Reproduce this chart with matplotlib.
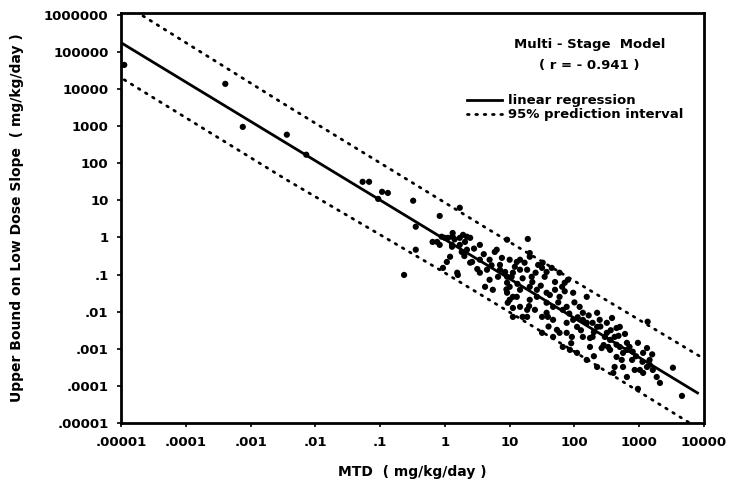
import numpy as np
import matplotlib
matplotlib.use("Agg")
import matplotlib.pyplot as plt

plt.rcParams['font.family'] = ['DejaVu Sans']
plt.rcParams['font.weight'] = 'bold'

# ---- data (log10 values) ----
log_mtd = [
    -4.95, -3.39, -3.12, -2.44, -2.14, -1.27, -1.17, -0.97, -0.88, -1.03,
    -0.49, -0.08, 0.23, -0.45, -0.45, -0.63, 1.28, 0.96,
    -0.19, -0.12, -0.08, -0.05, 0.00, 0.05, 0.12, 0.12, 0.11, 0.11,
    0.23, 0.23, 0.28, 0.31, 0.34, 0.39, 0.34, 0.26, 0.08, 0.03,
    -0.03, 0.20, 0.39, 0.42, 0.54, 0.54, 0.54, 0.69, 0.69, 0.77,
    0.80, 0.85, 0.85, 0.93, 0.96, 0.96, 1.00, 1.03, 1.08, 1.11,
    1.16, 1.16, 1.23, 1.31, 1.31, 1.34, 1.44, 1.50, 1.54, 1.51,
    1.57, 1.65, 1.77, 1.81, 1.85, 1.90, 1.70, 0.74, 0.62, 0.82,
    0.65, 0.96, 1.00, 1.05, 1.00, 0.97, 1.05, 1.05, 1.16, 1.16,
    1.20, 1.27, 1.31, 1.31, 1.42, 1.42, 1.39, 1.50, 1.50, 1.57,
    1.57, 1.57, 1.67, 1.67, 1.67, 1.73, 1.77, 1.77, 1.82, 1.82,
    1.88, 1.88, 1.88, 1.93, 1.96, 1.98, 1.98, 2.04, 2.04, 2.08,
    2.13, 2.13, 2.13, 2.19, 2.19, 2.19, 2.24, 2.24, 2.28, 2.28,
    2.35, 2.35, 2.35, 2.39, 2.42, 2.47, 2.50, 2.50, 2.52, 2.55,
    2.55, 2.58, 2.62, 2.62, 2.65, 2.65, 2.65, 2.70, 2.70, 2.73,
    2.75, 2.75, 2.81, 2.81, 2.81, 2.89, 2.90, 2.93, 2.98, 2.98,
    3.01, 3.06, 3.06, 3.12, 3.12, 3.13, 3.16, 3.16, 3.21, 3.27,
    3.32, 3.52, 3.66, 0.19, 1.27, 1.27, 1.11, 1.59,
    0.15, 0.45, 0.60, 0.72, 0.88, 1.05, 1.12, 1.20, 1.35, 1.40,
    1.48, 1.62, 1.70, 1.75, 1.85, 1.92, 2.00, 2.05, 2.10, 2.22,
    2.30, 2.40, 2.45, 2.56, 2.68, 2.78, 2.85, 2.95, 3.05, 3.20,
    0.30, 0.50, 0.95, 1.30, 1.60, 1.95, 2.30, 2.60,
]
log_slope = [
    4.65, 4.14, 2.98, 2.77, 2.23, 1.50, 1.50, 1.23, 1.20, 1.04,
    0.99, 0.58, 0.80, 0.29, -0.33, -1.01, -0.04, -0.06,
    -0.12, -0.12, -0.20, 0.02, -0.01, -0.01, 0.02, 0.12, -0.20, -0.25,
    -0.01, -0.20, 0.07, -0.12, 0.02, -0.01, -0.33, -0.39, -0.52, -0.66,
    -0.82, -1.01, -0.68, -0.66, -0.20, -0.60, -0.95, -0.60, -1.14, -0.39,
    -0.33, -0.74, -0.87, -0.93, -1.06, -1.22, -0.60, -1.06, -0.79, -0.66,
    -0.87, -0.60, -0.68, -0.52, -0.42, -1.06, -0.74, -0.82, -1.06, -0.68,
    -0.93, -0.82, -0.95, -1.33, -1.22, -1.14, -1.41, -1.41, -1.33, -1.06,
    -0.87, -1.49, -1.33, -1.60, -1.68, -1.76, -1.90, -2.14, -1.41, -1.87,
    -2.14, -1.95, -1.33, -1.68, -1.41, -1.60, -1.95, -2.14, -2.57, -1.49,
    -1.76, -2.03, -1.87, -2.22, -2.68, -2.49, -1.60, -2.57, -1.95, -2.95,
    -1.87, -2.30, -2.57, -3.03, -2.68, -1.49, -2.22, -2.41, -3.11, -1.87,
    -2.03, -2.22, -2.68, -1.60, -2.30, -3.30, -2.71, -2.95, -2.30, -2.68,
    -2.03, -2.41, -3.49, -2.22, -2.98, -2.68, -2.30, -2.57, -2.95, -2.76,
    -3.03, -2.17, -2.68, -3.49, -2.44, -2.89, -3.22, -2.41, -2.95, -3.30,
    -3.11, -3.49, -2.84, -3.03, -3.76, -3.30, -3.08, -3.57, -2.84, -4.08,
    -3.57, -3.11, -3.65, -2.98, -3.49, -2.27, -3.30, -3.43, -3.57, -3.76,
    -3.92, -3.51, -4.27, -0.95, -0.87, -2.14, -1.60, -2.14,
    -0.05, -0.30, -0.45, -0.75, -0.55, -0.95, -1.25, -1.10, -1.20, -0.95,
    -1.30, -1.55, -1.20, -1.75, -1.45, -2.05, -1.75, -2.15, -2.50, -2.10,
    -2.55, -2.40, -2.90, -2.50, -2.65, -2.60, -2.95, -3.20, -3.35, -3.15,
    -0.50, -0.85, -1.40, -1.85, -2.40, -2.85, -3.20, -3.65,
]

# regression line and 95% prediction interval (log10 values)
fit_log_x = [-5.0, 3.9]
fit_log_y = [5.25, -4.19]
upper_log_x = [-4.66, -2.44, 0.69, 4.0]
upper_log_y = [5.97, 3.55, 0.20, -3.27]
lower_log_x = [-4.95, -2.44, -0.08, 1.88, 3.78]
lower_log_y = [4.25, 1.55, -0.87, -2.95, -5.0]

x_ticks = [1e-5, 1e-4, 1e-3, 1e-2, 1e-1, 1, 10, 100, 1000, 10000]
x_labels = ['.00001', '.0001', '.001', '.01', '.1', '1', '10', '100', '1000', '10000']
y_ticks = [1e-5, 1e-4, 1e-3, 1e-2, 1e-1, 1, 10, 100, 1000, 10000, 100000, 1000000]
y_labels = ['.00001', '.0001', '.001', '.01', '.1', '1', '10', '100', '1000',
            '10000', '100000', '1000000']

fig = plt.figure(figsize=(7.29, 4.87), dpi=100)
ax = fig.add_axes([121/729, 1-423/487, (704-121)/729, (423-13)/487])

dotted = (0, (0.6, 2.4))
ax.plot(10**np.array(fit_log_x), 10**np.array(fit_log_y), color='black', lw=2.0,
        label='linear regression')
ax.plot(10**np.array(upper_log_x), 10**np.array(upper_log_y), color='black', lw=2.0,
        linestyle=dotted, dash_capstyle='round', label='95% prediction interval')
ax.plot(10**np.array(lower_log_x), 10**np.array(lower_log_y), color='black', lw=2.0,
        linestyle=dotted, dash_capstyle='round')
ax.scatter(10**np.array(log_mtd), 10**np.array(log_slope), s=20, color='black',
           edgecolors='none', zorder=3)

ax.set_xscale('log')
ax.set_yscale('log')
ax.set_xlim(1e-5, 1e4)
ax.set_ylim(1e-5, 1.12e6)
ax.set_xticks(x_ticks)
ax.set_xticklabels(x_labels)
ax.set_yticks(y_ticks)
ax.set_yticklabels(y_labels)
ax.minorticks_off()
ax.tick_params(axis='both', direction='out', length=3, width=1.2, labelsize=9.5, pad=6)
for lab in ax.get_xticklabels() + ax.get_yticklabels():
    lab.set_fontweight('bold')
for sp in ax.spines.values():
    sp.set_linewidth(2.0)

ax.set_xlabel('MTD  ( mg/kg/day )', fontsize=10, fontweight='bold', labelpad=12)
ax.set_ylabel('Upper Bound on Low Dose Slope  ( mg/kg/day )', fontsize=10,
              fontweight='bold', labelpad=14)

ax.text(0.804, 0.922, 'Multi - Stage  Model', transform=ax.transAxes, ha='center',
        va='center', fontsize=9.5, fontweight='bold')
ax.text(0.804, 0.873, '( r = - 0.941 )', transform=ax.transAxes, ha='center',
        va='center', fontsize=9.5, fontweight='bold')
leg = ax.legend(loc='upper left', bbox_to_anchor=(0.585, 0.815), frameon=False,
                handlelength=2.6, handletextpad=0.5, labelspacing=0.1,
                prop={'size': 9.5, 'weight': 'bold'}, borderaxespad=0)

fig.savefig('out.png', dpi=100)
